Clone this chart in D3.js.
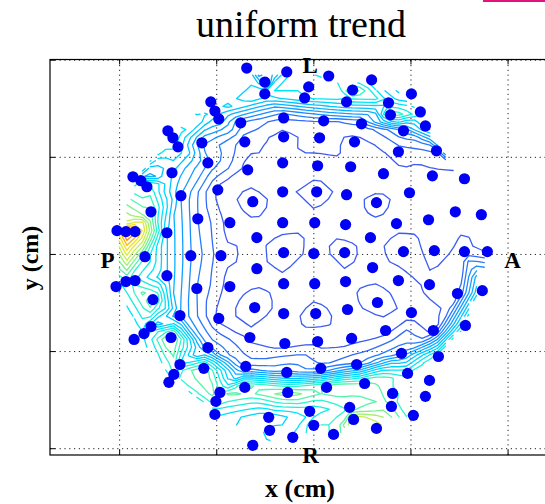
<!DOCTYPE html>
<html>
<head>
<meta charset="utf-8">
<script src="https://cdn.jsdelivr.net/npm/d3@7"></script>
<style>
  body { margin: 0; background: #fff; }
  svg { display: block; }
</style>
</head>
<body>
<svg id="chart" width="545" height="504"></svg>
<script>
// Electrode positions on the scalp map (cm) and the measured value at each one
const electrodeX = [
  -3.43,-1.37,0.79,3.00,-2.50,-2.50,-0.24,-0.45,2.02,1.71,
  5.05,3.87,3.97,5.51,5.77,4.64,-5.28,-5.07,-4.87,-3.74,
  -7.49,-7.23,-6.97,-5.74,-1.53,0.53,2.48,-3.53,-1.53,0.32,
  2.12,4.38,6.34,-5.43,-7.28,-9.29,-8.88,-8.57,-6.82,-4.92,
  -3.38,-1.58,0.22,1.92,3.61,6.13,7.78,-8.36,-5.95,-4.30,
  -3.12,-1.58,0.17,1.71,3.25,4.95,7.31,8.65,5.93,4.28,
  -10.11,-9.65,-9.18,-7.54,-2.91,-1.58,0.07,1.66,2.94,-8.67,
  -6.31,-4.76,-1.53,0.02,1.61,4.64,6.23,7.78,8.96,3.05,
  -2.91,-1.53,0.07,1.66,4.38,5.98,7.42,8.70,3.30,5.05,
  7.83,3.72,6.18,-3.02,-1.53,0.12,1.76,-3.27,-1.47,0.22,
  1.97,-3.48,-1.37,0.38,2.23,4.54,6.44,-3.53,-1.32,0.68,
  2.64,4.85,5.98,4.08,5.77,4.02,5.15,3.25,-0.19,1.87,
  2.07,-2.30,-2.25,0.02,-1.06,1.04,-3.12,-10.16,-9.65,-9.18,
  -7.54,-6.00,-4.30,-8.26,-6.87,-4.87,-8.36,-8.72,-9.23,-7.33,
  -5.43,-6.87,-7.18,-7.44,-5.64,-4.81,-5.02,-5.07
];
const electrodeY = [
  9.57,9.37,9.16,8.96,8.85,8.24,8.60,8.03,8.44,7.83,
  8.24,7.78,7.16,7.31,6.59,6.34,7.83,7.36,6.95,6.75,
  6.34,5.98,5.51,5.72,7.00,6.85,6.70,5.77,6.03,5.98,
  5.77,5.26,5.31,4.69,4.18,3.97,3.77,3.46,3.00,3.30,
  4.33,4.69,4.54,4.49,4.13,4.02,3.87,2.17,1.81,1.61,
  2.69,3.20,3.20,3.05,2.64,3.15,2.17,2.02,1.76,1.56,
  1.20,1.15,1.15,1.09,0.84,1.61,1.61,1.51,0.84,-0.14,
  -0.09,-0.09,0.07,0.02,0.07,0.12,0.17,0.12,0.12,-0.70,
  -0.76,-1.53,-1.53,-1.42,-1.37,-1.58,-2.04,-1.89,-2.50,-3.02,
  -3.68,-3.94,-3.94,-2.76,-3.07,-3.07,-2.86,-4.30,-4.61,-4.51,
  -4.35,-5.79,-6.10,-5.89,-5.69,-5.12,-5.28,-6.87,-7.13,-6.87,
  -6.67,-6.15,-6.51,-7.18,-7.33,-7.85,-8.31,-8.98,-8.10,-7.90,
  -8.52,-8.41,-9.08,-8.82,-9.44,-9.29,-9.85,-1.68,-1.42,-1.37,
  -1.12,-1.78,-1.68,-2.35,-3.17,-3.32,-3.74,-4.10,-4.40,-4.30,
  -4.82,-5.69,-6.20,-6.61,-5.89,-7.13,-7.59,-8.26
];
const potential = [
  4,5,5,4.5,1.5,5,5.5,5,7,5,
  3.5,5,6.5,5.5,5,2.5,4,4.5,4,2,
  5,5.5,5,2.5,1.3,1.5,1.4,1.2,0.8,1.3,
  0.8,1.15,1.5,2.5,4,5,3,6,3,0.8,
  0.75,0.8,0.75,0.85,0.75,0.8,0.8,6.5,2,0.75,
  1.2,0.8,1.3,0.8,1.15,0.8,0.8,0.75,0.75,0.85,
  9,11,10.5,4,0.8,0.75,0.8,0.75,0.8,6,
  2.5,1.2,1.4,0.8,1.2,1.3,0.8,1.15,0.8,0.75,
  0.75,0.8,0.75,0.85,0.75,1.1,1.2,5,1.3,0.8,
  5.5,0.75,0.8,1.3,0.8,1.2,0.8,0.85,0.75,0.8,
  0.75,1.8,2.5,1.6,2.0,2.5,6,7,7.5,7,
  7,5.5,6,6,6,6.5,5.5,8.5,5,6,
  8.5,4,5,6,5,6,4,5,6,5.5,
  4,2,0.75,7,3,0.8,4,5,4.5,7.5,
  2.5,5,6,5,7,6,6.5,5
];

// Contour thresholds (every half unit)
const contourLevels = d3.range(1, 11.01, 0.5);

const gridTicks = [-10, -5, 0, 5, 10];

// Anatomical landmarks written on the map
const landmarkNames = ["L", "A", "R", "P"];
const landmarkX = [-0.17, 10.26, -0.14, -10.6];
const landmarkY = [9.31, -0.74, -10.75, -0.74];

const chartTitle = "uniform trend";
const xTitle = "x (cm)";
const yTitle = "y (cm)";

// line colour per contour value, blue (low) through cyan and green to red (high)
const lineColor = d3.scaleLinear()
  .domain([1, 2.5, 4, 5, 6, 7, 8, 9, 10, 11])
  .range(["#3d5cf2", "#1c8cff", "#00c4ff", "#00e4f8", "#30f4cc", "#80f08c",
          "#c4f050", "#f4e020", "#ff9000", "#ff2000"])
  .clamp(true);

// ---- layout ----
const svg = d3.select("#chart");
const plot = { left: 50, right: 560, top: 59.5, bottom: 455 };
const x = d3.scaleLinear().domain([-13.56, 12.70]).range([plot.left, plot.right]);
const y = d3.scaleLinear().domain([-10.35, 10.01]).range([plot.bottom, plot.top]);

svg.append("defs").append("clipPath").attr("id", "plotclip")
  .append("rect")
  .attr("x", plot.left).attr("y", plot.top)
  .attr("width", plot.right - plot.left).attr("height", plot.bottom - plot.top);

// ---- dotted grid ----
const gridG = svg.append("g").attr("class", "grid");
gridG.append("g")
  .attr("transform", `translate(0,${plot.bottom})`)
  .call(d3.axisBottom(x).tickValues(gridTicks).tickSize(-(plot.bottom - plot.top)).tickFormat(""))
  .call(g => g.select(".domain").remove());
gridG.append("g")
  .attr("transform", `translate(${plot.left},0)`)
  .call(d3.axisLeft(y).tickValues(gridTicks).tickSize(-(plot.right - plot.left)).tickFormat(""))
  .call(g => g.select(".domain").remove());
gridG.selectAll("line")
  .attr("stroke", "#222")
  .attr("stroke-width", 1)
  .attr("stroke-dasharray", "1.2,3.6");

// ---- interpolated field on a regular grid (linear over the Delaunay triangulation) ----
const pts = electrodeX.map((v, i) => [v, electrodeY[i]]);
const delaunay = d3.Delaunay.from(pts);
const step = 0.4;
const gx0 = -10.4, gy0 = -10.4;
const nx = 53, ny = 53;
const field = new Float64Array(nx * ny).fill(NaN);
const tri = delaunay.triangles;
for (let t = 0; t < tri.length; t += 3) {
  const a = tri[t], b = tri[t + 1], c = tri[t + 2];
  const ax = pts[a][0], ay = pts[a][1], bx = pts[b][0], by = pts[b][1], cx = pts[c][0], cy = pts[c][1];
  const det = (by - cy) * (ax - cx) + (cx - bx) * (ay - cy);
  if (Math.abs(det) < 1e-12) continue;
  const i0 = Math.max(0, Math.ceil((Math.min(ax, bx, cx) - gx0) / step));
  const i1 = Math.min(nx - 1, Math.floor((Math.max(ax, bx, cx) - gx0) / step));
  const j0 = Math.max(0, Math.ceil((Math.min(ay, by, cy) - gy0) / step));
  const j1 = Math.min(ny - 1, Math.floor((Math.max(ay, by, cy) - gy0) / step));
  for (let j = j0; j <= j1; j++) {
    for (let i = i0; i <= i1; i++) {
      const px = gx0 + i * step, py = gy0 + j * step;
      const l1 = ((by - cy) * (px - cx) + (cx - bx) * (py - cy)) / det;
      const l2 = ((cy - ay) * (px - cx) + (ax - cx) * (py - cy)) / det;
      const l3 = 1 - l1 - l2;
      if (l1 >= -1e-9 && l2 >= -1e-9 && l3 >= -1e-9) {
        field[j * nx + i] = l1 * potential[a] + l2 * potential[b] + l3 * potential[c];
      }
    }
  }
}

// ---- marching squares: open iso-lines that stop at the edge of the data ----
function isoSegments(level) {
  const segs = [];
  const lerp = (p, q, vp, vq) => {
    const f = (level - vp) / (vq - vp);
    return [p[0] + f * (q[0] - p[0]), p[1] + f * (q[1] - p[1])];
  };
  for (let j = 0; j < ny - 1; j++) {
    for (let i = 0; i < nx - 1; i++) {
      const v00 = field[j * nx + i], v10 = field[j * nx + i + 1];
      const v01 = field[(j + 1) * nx + i], v11 = field[(j + 1) * nx + i + 1];
      if (!(isFinite(v00) && isFinite(v10) && isFinite(v01) && isFinite(v11))) continue;
      const c00 = [gx0 + i * step, gy0 + j * step], c10 = [c00[0] + step, c00[1]];
      const c01 = [c00[0], c00[1] + step], c11 = [c00[0] + step, c00[1] + step];
      const b00 = v00 >= level, b10 = v10 >= level, b01 = v01 >= level, b11 = v11 >= level;
      const E = {};
      if (b00 !== b10) E.bottom = lerp(c00, c10, v00, v10);
      if (b10 !== b11) E.right = lerp(c10, c11, v10, v11);
      if (b01 !== b11) E.top = lerp(c01, c11, v01, v11);
      if (b00 !== b01) E.left = lerp(c00, c01, v00, v01);
      const keys = Object.keys(E);
      if (keys.length === 2) {
        segs.push([E[keys[0]], E[keys[1]]]);
      } else if (keys.length === 4) {
        const center = (v00 + v10 + v01 + v11) / 4 >= level;
        const diagA = b00 && b11;
        if (diagA === center) {
          segs.push([E.bottom, E.right]); segs.push([E.left, E.top]);
        } else {
          segs.push([E.bottom, E.left]); segs.push([E.right, E.top]);
        }
      }
    }
  }
  return segs;
}

const contourG = svg.append("g").attr("clip-path", "url(#plotclip)");
contourLevels.forEach(lv => {
  const p = d3.path();
  isoSegments(lv).forEach(s => {
    p.moveTo(x(s[0][0]), y(s[0][1]));
    p.lineTo(x(s[1][0]), y(s[1][1]));
  });
  contourG.append("path")
    .attr("d", p.toString())
    .attr("fill", "none")
    .attr("stroke", lineColor(lv))
    .attr("stroke-width", 1.3)
    .attr("stroke-linecap", "round");
});

// ---- electrodes ----
svg.append("g").selectAll("circle")
  .data(pts)
  .join("circle")
  .attr("cx", d => x(d[0]))
  .attr("cy", d => y(d[1]))
  .attr("r", 5.6)
  .attr("fill", "#0000f4");

// ---- axes box with inward ticks ----
const axG = svg.append("g");
axG.append("g").attr("transform", `translate(0,${plot.bottom})`)
  .call(d3.axisBottom(x).tickValues(gridTicks).tickSize(-5).tickFormat(""));
axG.append("g").attr("transform", `translate(0,${plot.top})`)
  .call(d3.axisTop(x).tickValues(gridTicks).tickSize(-5).tickFormat(""));
axG.append("g").attr("transform", `translate(${plot.left},0)`)
  .call(d3.axisLeft(y).tickValues(gridTicks).tickSize(-5).tickFormat(""));
axG.selectAll(".tick line").attr("stroke", "#000");
axG.selectAll("path.domain").remove();
axG.append("rect")
  .attr("x", plot.left).attr("y", plot.top)
  .attr("width", plot.right - plot.left).attr("height", plot.bottom - plot.top)
  .attr("fill", "none").attr("stroke", "#000").attr("stroke-width", 1.2);

// ---- landmark letters ----
svg.append("g").selectAll("text")
  .data(landmarkNames)
  .join("text")
  .attr("x", (d, i) => x(landmarkX[i]))
  .attr("y", (d, i) => y(landmarkY[i]))
  .attr("text-anchor", "middle")
  .attr("font-family", "'Liberation Serif', 'DejaVu Serif', serif")
  .attr("font-weight", "bold")
  .attr("font-size", 23)
  .attr("fill", "#000")
  .text(d => d);

// ---- titles ----
svg.append("text")
  .attr("x", 301).attr("y", 37)
  .attr("text-anchor", "middle")
  .attr("font-family", "'Liberation Serif', serif")
  .attr("font-size", 38)
  .attr("fill", "#000")
  .text(chartTitle);

svg.append("text")
  .attr("x", 300).attr("y", 497)
  .attr("text-anchor", "middle")
  .attr("font-family", "'Liberation Serif', serif")
  .attr("font-weight", "bold")
  .attr("font-size", 26)
  .attr("fill", "#000")
  .text(xTitle);

svg.append("text")
  .attr("transform", "translate(38,258) rotate(-90)")
  .attr("text-anchor", "middle")
  .attr("font-family", "'Liberation Serif', serif")
  .attr("font-weight", "bold")
  .attr("font-size", 24)
  .attr("fill", "#000")
  .text(yTitle);

// thin accent rule along the top edge
svg.append("rect")
  .attr("x", 483).attr("y", 0).attr("width", 62).attr("height", 2)
  .attr("fill", "#e0147c");
</script>
</body>
</html>
